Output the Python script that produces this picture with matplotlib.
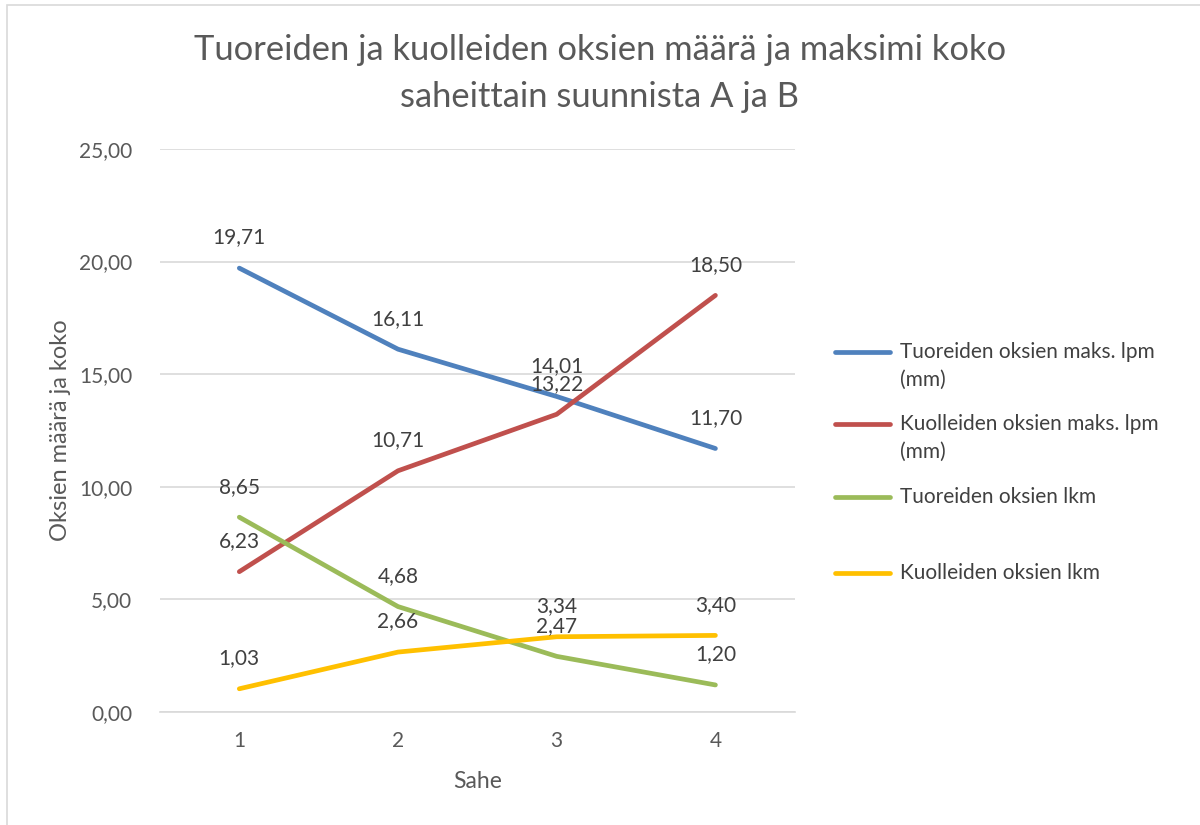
import matplotlib
matplotlib.use("Agg")
import matplotlib.pyplot as plt
from matplotlib.lines import Line2D
from matplotlib.patches import Rectangle

plt.rcParams['font.family'] = ['Lato', 'DejaVu Sans']

categories = [1, 2, 3, 4]
series_names = ["Tuoreiden oksien maks. lpm\n(mm)",
                "Kuolleiden oksien maks. lpm\n(mm)",
                "Tuoreiden oksien lkm",
                "Kuolleiden oksien lkm"]
tuore_maks = [19.71, 16.11, 14.01, 11.70]
kuollut_maks = [6.23, 10.71, 13.22, 18.50]
tuore_lkm = [8.65, 4.68, 2.47, 1.20]
kuollut_lkm = [1.03, 2.66, 3.34, 3.40]
colors = ["#4F81BD", "#C0504D", "#9BBB59", "#FFC000"]
yticks = [0, 5, 10, 15, 20, 25]

fig = plt.figure(figsize=(12, 8.25), dpi=100)
fig.add_artist(Rectangle((7 / 1200, -0.05), 1.1, 1 - 5 / 825 + 0.05, transform=fig.transFigure,
                         fill=False, edgecolor="#D9D9D9", linewidth=1.2))
ax = fig.add_axes([0.1333, 0.137, 0.529, 0.6824])

text_col = "#595959"
allseries = [tuore_maks, kuollut_maks, tuore_lkm, kuollut_lkm]
for vals, col in zip(allseries, colors):
    ax.plot(categories, vals, color=col, linewidth=3.4, solid_capstyle='round', zorder=3)
    for x, v in zip(categories, vals):
        ax.annotate(f"{v:.2f}".replace(".", ","), (x, v), xytext=(0, 22),
                    textcoords="offset points", ha="center", va="center",
                    fontsize=15, color="#404040", zorder=4)

ax.set_xlim(0.5, 4.5)
ax.set_ylim(0, 25)
ax.set_yticks(yticks)
ax.set_yticklabels([f"{t:.2f}".replace(".", ",") for t in yticks])
ax.set_xticks(categories)
ax.set_xticklabels([str(c) for c in categories])
ax.grid(axis='y', color="#D9D9D9", linewidth=1.2)
ax.set_axisbelow(True)
for s in ["top", "right", "left"]:
    ax.spines[s].set_visible(False)
ax.spines["bottom"].set_color("#D9D9D9")
ax.spines["bottom"].set_linewidth(1.2)
ax.tick_params(axis='both', length=0, labelsize=15, colors=text_col)
ax.tick_params(axis='x', pad=14)
ax.tick_params(axis='y', pad=20)
ax.set_xlabel("Sahe", fontsize=16.5, color=text_col, labelpad=14)
ax.set_ylabel("Oksien määrä ja koko", fontsize=17, color=text_col, labelpad=6)

fig.text(0.5, 1 - 50 / 825, "Tuoreiden ja kuolleiden oksien määrä ja maksimi koko",
         ha="center", va="center", fontsize=24.8, color=text_col)
fig.text(0.5, 1 - 97 / 825, "saheittain suunnista A ja B",
         ha="center", va="center", fontsize=24.8, color=text_col)

# legend
leg_y = [352, 424, 497, 573]
for name, col, yp in zip(series_names, colors, leg_y):
    yf = 1 - yp / 825
    fig.add_artist(Line2D([835 / 1200, 890 / 1200], [yf, yf], transform=fig.transFigure,
                          color=col, linewidth=3.4, solid_capstyle='round'))
    fig.text(900 / 1200, yf + 10 / 825, name, ha="left", va="top", fontsize=15,
             color="#404040", linespacing=1.5)

fig.savefig("out.png", dpi=100)
